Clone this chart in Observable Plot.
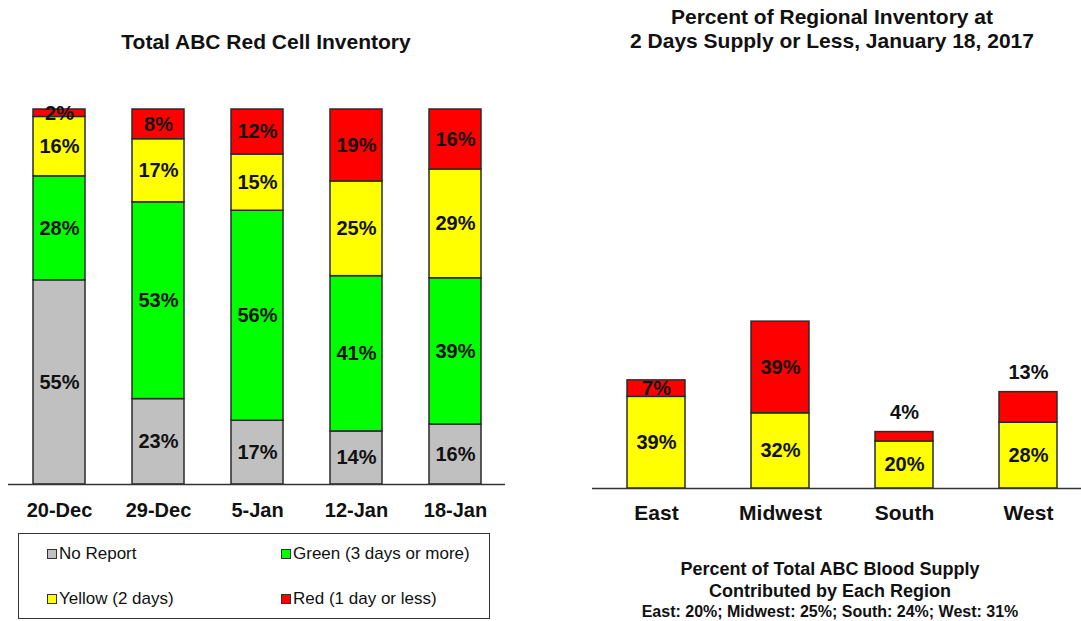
<!DOCTYPE html>
<html><head><meta charset="utf-8">
<script src="https://cdn.jsdelivr.net/npm/d3@7"></script>
<script src="https://cdn.jsdelivr.net/npm/@observablehq/plot@0.6"></script>
<style>
body{margin:0;background:#fff;font-family:"Liberation Sans",Arial,sans-serif;color:#111;}
#wrap{position:relative;width:1081px;height:621px;overflow:hidden;background:#fff}
.abs{position:absolute}
.title{font-weight:bold;font-size:21px;line-height:24px;text-align:center;white-space:nowrap}
#legend{left:18px;top:533px;width:470px;height:84px;border:1px solid #333;}
.item{position:absolute;font-size:17px;line-height:20px;white-space:nowrap;display:flex;align-items:center}
.sw{display:inline-block;width:8px;height:8px;border:1px solid #333;margin-right:2px}
#caption{left:590px;top:558px;width:480px;text-align:center;font-weight:bold;white-space:nowrap}
</style></head><body><div id="wrap"></div>
<script>
// ---- Left chart data ----
const dates = ["20-Dec", "29-Dec", "5-Jan", "12-Jan", "18-Jan"];
const statuses = ["No Report", "Green (3 days or more)", "Yellow (2 days)", "Red (1 day or less)"];
const statusColors = ["#c0c0c0", "#00ff00", "#ffff00", "#ff0000"];
const noReport = [55, 23, 17, 14, 16];
const green = [28, 53, 56, 41, 39];
const yellow = [16, 17, 15, 25, 29];
const red = [2, 8, 12, 19, 16];

// ---- Right chart data ----
const regions = ["East", "Midwest", "South", "West"];
const regionYellow = [39, 32, 20, 28];
const regionRed = [7, 39, 4, 13];
const supplyShare = [20, 25, 24, 31];

const leftTitle = "Total ABC Red Cell Inventory";
const rightTitle = ["Percent of Regional Inventory at", "2 Days Supply or Less, January 18, 2017"];
const captionLines = ["Percent of Total ABC Blood Supply", "Contributed by Each Region"];

const FONT = '"Liberation Sans", Arial, sans-serif';
const wrap = document.getElementById("wrap");

// Left chart
const inv = [];
dates.forEach((d, i) => {
  [noReport, green, yellow, red].forEach((arr, k) => inv.push({date: d, status: statuses[k], value: arr[i]}));
});
const left = Plot.plot({
  width: 520, height: 530,
  marginTop: 109, marginBottom: 46, marginLeft: 8, marginRight: 15,
  style: {fontFamily: FONT, fontSize: "20px", fontWeight: "bold", color: "#111", background: "transparent"},
  x: {domain: dates, paddingInner: 0.476, paddingOuter: 0.242, label: null, tickSize: 0, tickPadding: 18},
  y: {domain: [0, 1], axis: null},
  color: {domain: statuses, range: statusColors},
  marks: [
    Plot.barY(inv, Plot.stackY({x: "date", y: "value", fill: "status", offset: "normalize", stroke: "#2b2b2b", strokeWidth: 1.5})),
    Plot.text(inv, Plot.stackY({x: "date", y: "value", offset: "normalize", text: d => d.value + "%", fontSize: 20, fontWeight: "bold", fill: "#111"})),
    Plot.ruleY([0], {stroke: "#333", strokeWidth: 1.5})
  ]
});
left.style.position = "absolute"; left.style.left = "0px"; left.style.top = "0px";
wrap.appendChild(left);

// Right chart
const reg = [];
regions.forEach((r, i) => {
  reg.push({region: r, level: statuses[2], value: regionYellow[i]});
  reg.push({region: r, level: statuses[3], value: regionRed[i]});
});
const labelAbove = new Set(["South", "West"]);
const isRedAbove = d => d.level === statuses[3] && labelAbove.has(d.region);
const right = Plot.plot({
  width: 491, height: 530,
  marginTop: 253, marginBottom: 42, marginLeft: 2, marginRight: 0,
  style: {fontFamily: FONT, fontSize: "21px", fontWeight: "bold", color: "#111", background: "transparent", overflow: "visible"},
  x: {domain: regions, range: [2, 502], paddingInner: 0.532, paddingOuter: 0.282, label: null, tickSize: 0, tickPadding: 17},
  y: {domain: [0, 100], axis: null},
  color: {domain: statuses, range: statusColors},
  marks: [
    Plot.barY(reg, Plot.stackY({x: "region", y: "value", fill: "level", stroke: "#2b2b2b", strokeWidth: 1.5})),
    Plot.text(reg, Plot.stackY({x: "region", y: "value", text: d => isRedAbove(d) ? "" : d.value + "%", fontSize: 20, fontWeight: "bold", fill: "#111"})),
    Plot.text(reg, Plot.stackY2({x: "region", y: "value", text: d => isRedAbove(d) ? d.value + "%" : "", dy: -20, fontSize: 20, fontWeight: "bold", fill: "#111"})),
    Plot.ruleY([0], {stroke: "#333", strokeWidth: 1.5})
  ]
});
right.style.position = "absolute"; right.style.left = "590px"; right.style.top = "0px";
wrap.appendChild(right);

// Titles
const t1 = document.createElement("div");
t1.className = "abs title"; t1.style.left = "0px"; t1.style.width = "532px"; t1.style.top = "30px";
t1.textContent = leftTitle;
wrap.appendChild(t1);
const t2 = document.createElement("div");
t2.className = "abs title"; t2.style.left = "590px"; t2.style.width = "484px"; t2.style.top = "5px";
t2.innerHTML = rightTitle.map(s => `<div>${s}</div>`).join("");
wrap.appendChild(t2);

// Legend (2 x 2)
const lg = document.createElement("div");
lg.id = "legend"; lg.className = "abs";
const legendOrder = [0, 2, 1, 3]; // No Report, Yellow (col 1); Green, Red (col 2)
legendOrder.forEach((k, j) => {
  const col = j < 2 ? 0 : 1, row = j % 2;
  const it = document.createElement("div");
  it.className = "item";
  it.style.left = (col ? 262 : 28) + "px";
  it.style.top = (row ? 55 : 10) + "px";
  it.innerHTML = `<span class="sw" style="background:${statusColors[k]}"></span><span>${statuses[k]}</span>`;
  lg.appendChild(it);
});
wrap.appendChild(lg);

// Caption
const cap = document.createElement("div");
cap.id = "caption"; cap.className = "abs";
cap.innerHTML = captionLines.map(s => `<div style="font-size:18px;line-height:22px">${s}</div>`).join("") +
  `<div style="font-size:16px;line-height:20px">${regions.map((r, i) => `${r}: ${supplyShare[i]}%`).join("; ")}</div>`;
wrap.appendChild(cap);
</script>
</body></html>
